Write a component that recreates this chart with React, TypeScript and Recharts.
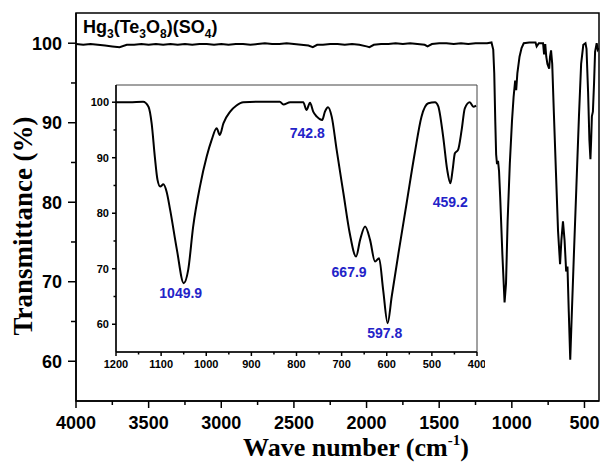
import React from 'react';
import { LineChart, Line, XAxis, YAxis, ReferenceArea, ReferenceDot } from 'recharts';

// IR spectrum, wavenumber (cm-1) vs transmittance (%)
const wavenumbers = [
  4000, 3950, 3900, 3850, 3800, 3750, 3700, 3650, 3600, 3550, 3500, 3450, 3400, 3350, 3300,
  3250, 3200, 3150, 3100, 3050, 3000, 2950, 2900, 2850, 2800, 2750, 2700, 2650, 2600, 2550,
  2500, 2450, 2400, 2370, 2340, 2300, 2250, 2200, 2150, 2100, 2050, 2000, 1980, 1950, 1900,
  1850, 1800, 1750, 1700, 1650, 1600, 1580, 1550, 1500, 1450, 1400, 1350, 1300, 1250, 1200,
  1170, 1140, 1128, 1121, 1114, 1108, 1102, 1095, 1088, 1080, 1065, 1050, 1040, 1029, 1014,
  999, 988, 977, 970, 962, 947, 933, 918, 880, 837, 829, 814, 785, 778, 770,
  763, 755, 743, 737, 730, 722, 711, 696, 682, 668, 659, 648, 637, 626, 617,
  608, 598, 589, 574, 556, 538, 523, 508, 493, 486, 475, 466, 459, 454, 449,
  442, 434, 427, 416, 408, 402,
];
const transmittance = [
  99.9, 99.8, 99.9, 99.8, 99.7, 99.6, 99.5, 99.8, 99.8, 99.9, 99.8, 99.9, 99.8, 99.9, 99.8,
  99.9, 99.8, 99.9, 99.9, 99.8, 99.9, 99.8, 99.9, 99.9, 99.8, 99.9, 100.0, 99.9, 99.9, 100.0,
  99.9, 99.8, 99.7, 99.5, 99.8, 99.8, 99.9, 99.9, 99.8, 99.9, 99.8, 99.6, 99.5, 99.8, 99.9,
  99.9, 100.0, 99.9, 100.0, 99.9, 99.8, 99.6, 99.9, 100.0, 100.0, 99.9, 100.0, 99.9, 100.0, 100.0,
  100.0, 100.1, 99.2, 96.2, 90.2, 86.0, 84.8, 85.2, 83.9, 80.6, 73.4, 67.4, 69.8, 77.6, 84.8,
  90.2, 93.2, 95.3, 94.1, 96.2, 98.3, 99.4, 100.0, 100.1, 100.1, 99.6, 100.0, 100.0, 98.6, 99.9,
  98.3, 97.4, 96.8, 98.3, 99.1, 97.4, 91.4, 83.6, 76.4, 72.2, 75.2, 77.6, 75.2, 71.3, 71.9,
  66.2, 60.2, 65.0, 72.8, 81.8, 90.8, 97.4, 99.8, 100.0, 99.3, 93.8, 87.8, 85.4, 87.8, 90.8,
  91.4, 95.0, 98.9, 100.0, 99.2, 99.4,
];

const mainXMajor = [4000, 3500, 3000, 2500, 2000, 1500, 1000, 500];
const mainXMinor = [3750, 3250, 2750, 2250, 1750, 1250, 750];
const mainYMajor = [60, 70, 80, 90, 100];
const mainYMinor = [65, 75, 85, 95];

const insetXMajor = [1200, 1100, 1000, 900, 800, 700, 600, 500, 400];
const insetXMinor = [1150, 1050, 950, 850, 750, 650, 550, 450];
const insetYMajor = [60, 70, 80, 90, 100];
const insetYMinor = [65, 75, 85, 95];

const peakLabels = ['1049.9', '742.8', '667.9', '597.8', '459.2'];
const peakWavenumbers = [1049.9, 742.8, 667.9, 597.8, 459.2];
const peakTransmittance = [67.4, 96.8, 72.2, 60.2, 85.4];

const spectrum = wavenumbers.map((w, i) => ({ w, t: transmittance[i] }));
const insetSpectrum = spectrum.filter((d) => d.w <= 1200);

// label offsets from each peak (px)
const peakOffsets = [[-3, 10], [-15, 13], [-7, 15], [-3, 10], [0, 19]];

const SANS = '"Liberation Sans", Arial, sans-serif';
const SERIF = '"Liberation Serif", "Times New Roman", serif';

const merge = (a: number[], b: number[]) => [...a, ...b].sort((p, q) => q - p);

const xTick = (majors: number[], majorLen: number, minorLen: number, fs: number, gap: number) =>
  (props: any) => {
    const { x, y, payload } = props;
    const major = majors.includes(payload.value);
    return (
      <g>
        <line x1={x} x2={x} y1={y} y2={y + (major ? majorLen : minorLen)} stroke="#000" strokeWidth={1.5} />
        {major && (
          <text x={x} y={y + gap} textAnchor="middle" fontFamily={SANS} fontWeight="bold" fontSize={fs} fill="#000">
            {payload.value}
          </text>
        )}
      </g>
    );
  };

const yTick = (majors: number[], majorLen: number, minorLen: number, fs: number, gap: number) =>
  (props: any) => {
    const { x, y, payload } = props;
    const major = majors.includes(payload.value);
    return (
      <g>
        <line x1={x - (major ? majorLen : minorLen)} x2={x} y1={y} y2={y} stroke="#000" strokeWidth={1.5} />
        {major && (
          <text x={x - majorLen - gap} y={y + fs * 0.36} textAnchor="end" fontFamily={SANS} fontWeight="bold" fontSize={fs} fill="#000">
            {payload.value}
          </text>
        )}
      </g>
    );
  };

export default function App() {
  return (
    <div style={{ position: 'absolute', left: 0, top: 0, width: 603, height: 464, background: '#fff' }}>
      <LineChart width={603} height={464} data={spectrum} margin={{ top: 13, right: 4, left: 0, bottom: 0 }}>
        <XAxis
          dataKey="w" type="number" domain={[400, 4000]} reversed allowDataOverflow
          ticks={merge(mainXMajor, mainXMinor)} interval={0} height={63}
          tickLine={false} tickSize={0} tickMargin={0}
          axisLine={{ stroke: '#000', strokeWidth: 1.5 }}
          tick={xTick(mainXMajor, 7, 4, 18, 28)}
        />
        <YAxis
          type="number" domain={[55, 103.8]} allowDataOverflow
          ticks={merge(mainYMajor, mainYMinor)} interval={0} width={76}
          tickLine={false} tickSize={0} tickMargin={0}
          axisLine={{ stroke: '#000', strokeWidth: 1.5 }}
          tick={yTick(mainYMajor, 8, 5, 18, 6)}
        />
        <ReferenceArea x1={4000} x2={400} y1={55} y2={103.8} fill="none" stroke="#000" strokeWidth={1.5} />
        <Line dataKey="t" type="linear" stroke="#000" strokeWidth={2} dot={false} isAnimationActive={false} />
      </LineChart>

      <div style={{ position: 'absolute', left: 80, top: 80 }}>
        <LineChart width={405} height={300} data={insetSpectrum} margin={{ top: 5, right: 8, left: 0, bottom: 0 }}>
          <XAxis
            dataKey="w" type="number" domain={[400, 1200]} reversed allowDataOverflow
            ticks={merge(insetXMajor, insetXMinor)} interval={0} height={28}
            tickLine={false} tickSize={0} tickMargin={0}
            axisLine={{ stroke: '#000', strokeWidth: 1.5 }}
            tick={xTick(insetXMajor, 4, 2.5, 11, 16)}
          />
          <YAxis
            type="number" domain={[55, 103.1]} allowDataOverflow
            ticks={merge(insetYMajor, insetYMinor)} interval={0} width={36}
            tickLine={false} tickSize={0} tickMargin={0}
            axisLine={{ stroke: '#000', strokeWidth: 1.5 }}
            tick={yTick(insetYMajor, 4, 2.5, 11, 3)}
          />
          <ReferenceArea x1={1200} x2={400} y1={55} y2={103.1} fill="none" stroke="#444" strokeWidth={1} />
          <Line dataKey="t" type="monotone" stroke="#000" strokeWidth={2} dot={false} isAnimationActive={false} />
          {peakLabels.map((label, i) => (
            <ReferenceDot
              key={label}
              x={peakWavenumbers[i]}
              y={peakTransmittance[i]}
              r={0}
              shape={(p: any) => (
                <text
                  x={p.cx + peakOffsets[i][0]} y={p.cy + peakOffsets[i][1] + 5}
                  textAnchor="middle" fontFamily={SANS} fontWeight="bold" fontSize={14} fill="#2323c8"
                >
                  {label}
                </text>
              )}
            />
          ))}
        </LineChart>
      </div>

      <svg width={603} height={464} style={{ position: 'absolute', left: 0, top: 0, pointerEvents: 'none' }}>
        <text x={83} y={33} fontFamily={SANS} fontWeight="bold" fontSize={18} fill="#000">
          Hg<tspan fontSize={12} dy={5}>3</tspan>
          <tspan dy={-5}>(Te</tspan><tspan fontSize={12} dy={5}>3</tspan>
          <tspan dy={-5}>O</tspan><tspan fontSize={12} dy={5}>8</tspan>
          <tspan dy={-5}>)(SO</tspan><tspan fontSize={12} dy={5}>4</tspan>
          <tspan dy={-5}>)</tspan>
        </text>
        <text
          transform="translate(32,226) rotate(-90)" textAnchor="middle"
          fontFamily={SERIF} fontWeight="bold" fontSize={27} fill="#000"
        >
          Transmittance (%)
        </text>
        <text x={356} y={456} textAnchor="middle" fontFamily={SERIF} fontWeight="bold" fontSize={26} fill="#000">
          Wave number (cm<tspan fontSize={15} dy={-11}>-1</tspan><tspan dy={11}>)</tspan>
        </text>
      </svg>
    </div>
  );
}
